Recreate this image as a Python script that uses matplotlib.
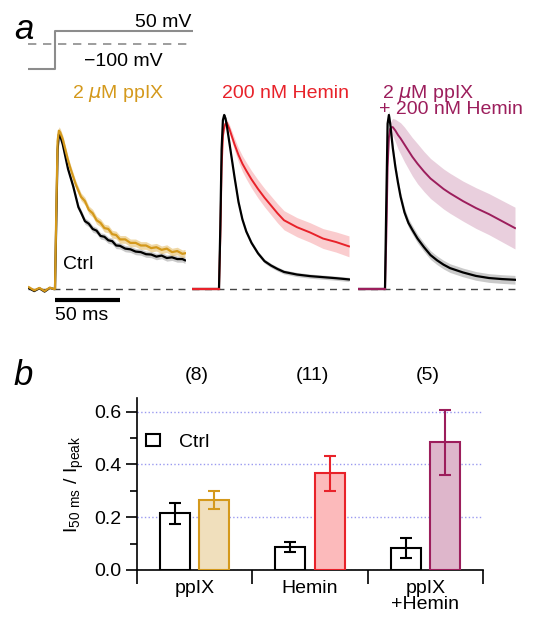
import numpy as np
import matplotlib.pyplot as plt
from matplotlib.patches import Patch

plt.rcParams.update({
    'font.family': ['Liberation Sans', 'DejaVu Sans'],
    'font.size': 14,
    'mathtext.default': 'regular',
})

# ---- panel a: normalised current traces (time in ms, I / I_peak) ----
t_ppix = [-20, -16, -12, -8, -4, -1, 0, 1, 2, 3, 4, 6, 8, 10, 12, 14, 16, 18, 20,
          23, 26, 29, 32, 35, 38, 41, 44, 47, 50, 54, 58, 62, 66, 70, 74, 78, 82,
          86, 90, 94, 98, 100]
ctrl_ppix = [0.005, -0.012, 0.004, -0.015, 0.006, 0.0, 0.0, 0.40, 0.80, 0.89, 0.88,
             0.83, 0.76, 0.69, 0.64, 0.59, 0.53, 0.47, 0.44, 0.39, 0.375, 0.345,
             0.335, 0.305, 0.30, 0.28, 0.275, 0.25, 0.248, 0.232, 0.228, 0.215,
             0.212, 0.20, 0.198, 0.186, 0.192, 0.178, 0.182, 0.172, 0.172, 0.165]
ppix = [0.01, -0.008, 0.006, -0.012, 0.008, 0.0, 0.0, 0.45, 0.85, 0.91, 0.90,
        0.86, 0.80, 0.74, 0.69, 0.645, 0.60, 0.565, 0.53, 0.505, 0.455, 0.435,
        0.395, 0.38, 0.35, 0.345, 0.315, 0.31, 0.285, 0.285, 0.265, 0.265, 0.25,
        0.25, 0.235, 0.24, 0.225, 0.232, 0.212, 0.218, 0.202, 0.205]
ctrl_ppix_sem = 0.018
ppix_sem = 0.022

t_hem = [-20, -1, 0, 1, 2, 3, 4, 5, 6, 8, 10, 12, 15, 18, 21, 25, 30, 35, 40, 45,
         50, 60, 70, 80, 90, 100]
ctrl_hem = [0, 0, 0, 0.35, 0.80, 0.97, 1.0, 0.98, 0.94, 0.84, 0.74, 0.64, 0.50,
            0.40, 0.33, 0.265, 0.205, 0.16, 0.135, 0.115, 0.098, 0.083, 0.074,
            0.068, 0.062, 0.055]
hem = [0, 0, 0, 0.30, 0.70, 0.88, 0.93, 0.95, 0.955, 0.92, 0.875, 0.83, 0.77,
       0.72, 0.68, 0.63, 0.575, 0.525, 0.48, 0.435, 0.395, 0.355, 0.325, 0.29,
       0.27, 0.245]
hem_sem = [0, 0, 0, 0.01, 0.015, 0.02, 0.02, 0.02, 0.02, 0.025, 0.03, 0.035,
           0.04, 0.045, 0.048, 0.05, 0.052, 0.053, 0.054, 0.055, 0.055, 0.055,
           0.056, 0.057, 0.058, 0.06]
ctrl_hem_sem = 0.012

t_combo = t_hem
ctrl_combo = [0, 0, 0, 0.50, 0.95, 1.0, 0.95, 0.88, 0.81, 0.70, 0.61, 0.53, 0.44,
              0.38, 0.34, 0.29, 0.24, 0.195, 0.165, 0.14, 0.12, 0.095, 0.075,
              0.063, 0.057, 0.053]
combo = [0, 0, 0, 0.30, 0.70, 0.87, 0.92, 0.93, 0.93, 0.91, 0.885, 0.865, 0.83,
         0.795, 0.76, 0.72, 0.675, 0.635, 0.605, 0.575, 0.55, 0.505, 0.465,
         0.43, 0.39, 0.35]
combo_sem = [0, 0, 0, 0.01, 0.02, 0.03, 0.035, 0.04, 0.05, 0.065, 0.08, 0.09,
             0.10, 0.105, 0.11, 0.115, 0.115, 0.115, 0.115, 0.115, 0.115, 0.115,
             0.117, 0.118, 0.119, 0.12]
ctrl_combo_sem = 0.025

# voltage protocol
proto_t = [-21, 0, 0, 106]
proto_v = [-100, -100, 50, 50]

# ---- panel b: I50ms / Ipeak ----
groups = ['ppIX', 'Hemin', 'ppIX\n+Hemin']
n_cells = ['(8)', '(11)', '(5)']
ctrl_vals = [0.215, 0.088, 0.083]
ctrl_err = [0.040, 0.020, 0.038]
drug_vals = [0.266, 0.366, 0.484]
drug_err = [0.035, 0.065, 0.122]

gold = '#D4991C'
red = '#E8222A'
purple = '#9C1E5C'
drug_colors = [gold, red, purple]
drug_fills = ['#F0DFBC', '#FCBABB', '#DEB6CB']

W, H = 538, 617
fig = plt.figure(figsize=(W / 100, H / 100), dpi=100)


def px_axes(x0, y0, x1, y1):
    return fig.add_axes([x0 / W, 1 - y1 / H, (x1 - x0) / W, (y1 - y0) / H])


def ftext(x, y, s, **kw):
    fig.text(x / W, 1 - y / H, s, **kw)


# voltage step
axv = px_axes(27.7, 28.5, 192.8, 71.5)
axv.plot(proto_t, proto_v, color='#8C8C8C', lw=1.5)
axv.axhline(0, color='#8C8C8C', lw=1.2, dashes=(5, 4))
axv.set_xlim(-21, 106)
axv.set_ylim(-110, 60)
axv.axis('off')
ftext(191, 27, '50 mV', ha='right', va='baseline')
ftext(123, 62, '\u2212100 mV', ha='center', va='center')

panels = [
    (27.7, t_ppix, ctrl_ppix, ctrl_ppix_sem, ppix, ppix_sem, gold, '#E3B95E'),
    (191.7, t_hem, ctrl_hem, ctrl_hem_sem, hem, hem_sem, red, '#F7A3A6'),
    (357.7, t_combo, ctrl_combo, ctrl_combo_sem, combo, combo_sem, purple, '#D7A9C1'),
]
trace_axes = []
for x0, t, ctrl, csem, drug, dsem, col, fcol in panels:
    ax = px_axes(x0, 100, x0 + 158.6, 305)
    t = np.array(t)
    ctrl = np.array(ctrl)
    drug = np.array(drug)
    after = t >= 0
    ax.axhline(0, color='#444444', lw=1, dashes=(5, 4), zorder=0)
    ax.fill_between(t, ctrl - csem, ctrl + csem, where=after, color='#A8A8A8',
                    alpha=0.6, lw=0)
    ax.fill_between(t, drug - np.array(dsem), drug + np.array(dsem), where=after,
                    color=fcol, alpha=0.55, lw=0)
    if col == gold:
        ax.plot(t, ctrl, color='black', lw=1.6)
        ax.plot(t, drug, color=col, lw=1.6)
    else:
        ax.plot(t, drug, color=col, lw=1.4)
        ax.plot(t, ctrl, color='black', lw=1.6)
        ax.plot(t[t <= 0], drug[t <= 0], color=col, lw=1.6)
    ax.set_xlim(-21, 101)
    ax.set_ylim(-0.092, 1.086)
    ax.axis('off')
    trace_axes.append(ax)

ax1 = trace_axes[0]
ax1.plot([0, 50], [-0.063, -0.063], color='black', lw=3, solid_capstyle='butt',
         clip_on=False)
ax1.text(0, -0.105, '50 ms', ha='left', va='top')
ax1.text(6.2, 0.138, 'Ctrl', ha='left', va='center')

ftext(118, 93, '2 $\\mathit{\\mu}$M ppIX', color=gold, ha='center', va='center')
ftext(285, 93, '200 nM Hemin', color=red, ha='center', va='center')
ftext(382, 93, '2 $\\mathit{\\mu}$M ppIX', color=purple, ha='left', va='center')
ftext(379, 110, '+ 200 nM Hemin', color=purple, ha='left', va='center')

ftext(14, 39, 'a', fontsize=25, style='italic', ha='left', va='baseline')
ftext(13, 385, 'b', fontsize=25, style='italic', ha='left', va='baseline')

# bar chart
axb = px_axes(137, 398, 483, 570)
x = np.arange(len(groups))
w = 0.26
off = 0.17
axb.bar(x - off, ctrl_vals, w, facecolor='white', edgecolor='black', lw=1.5,
        zorder=3)
axb.bar(x + off, drug_vals, w, facecolor=drug_fills, edgecolor=drug_colors,
        lw=1.5, zorder=3)
axb.errorbar(x - off, ctrl_vals, yerr=ctrl_err, fmt='none', ecolor='black',
             elinewidth=1.5, capsize=4, capthick=1.5, zorder=4)
for i in range(len(groups)):
    axb.errorbar(x[i] + off, drug_vals[i], yerr=drug_err[i], fmt='none',
                 ecolor=drug_colors[i], elinewidth=1.5, capsize=4, capthick=1.5,
                 zorder=4)
    axb.text(x[i] + 0.02, 0.739, n_cells[i], ha='center', va='center')

axb.set_xlim(-0.5, 2.5)
axb.set_ylim(0, 0.652)
axb.set_xticks(x)
axb.set_xticklabels(groups, linespacing=0.95)
axb.set_xticks([-0.5, 0.5, 1.5, 2.5], minor=True)
axb.tick_params(axis='x', which='major', length=0, pad=7)
axb.tick_params(axis='x', which='minor', length=10, width=1.2, direction='out')
axb.set_yticks([0, 0.2, 0.4, 0.6])
axb.set_yticklabels(['0.0', '0.2', '0.4', '0.6'])
axb.set_yticks([0.1, 0.3, 0.5], minor=True)
axb.tick_params(axis='y', which='major', length=8, width=1.2, pad=3)
axb.tick_params(axis='y', which='minor', length=5, width=1.2)
axb.yaxis.grid(True, which='major', linestyle=':', color='#9A9AF0', lw=1)
axb.set_axisbelow(True)
for s in ['top', 'right']:
    axb.spines[s].set_visible(False)
for s in ['left', 'bottom']:
    axb.spines[s].set_linewidth(1.2)
axb.set_ylabel('I$_{50\\ ms}$ / I$_{peak}$', labelpad=6)
axb.legend(handles=[Patch(facecolor='white', edgecolor='black', lw=1.5,
                          label='Ctrl')],
           loc='center left', bbox_to_anchor=(0.026, 0.744), frameon=False,
           handlelength=0.7, handleheight=0.55, handletextpad=1.0,
           borderpad=0, borderaxespad=0)

fig.savefig('out.png', dpi=100)
